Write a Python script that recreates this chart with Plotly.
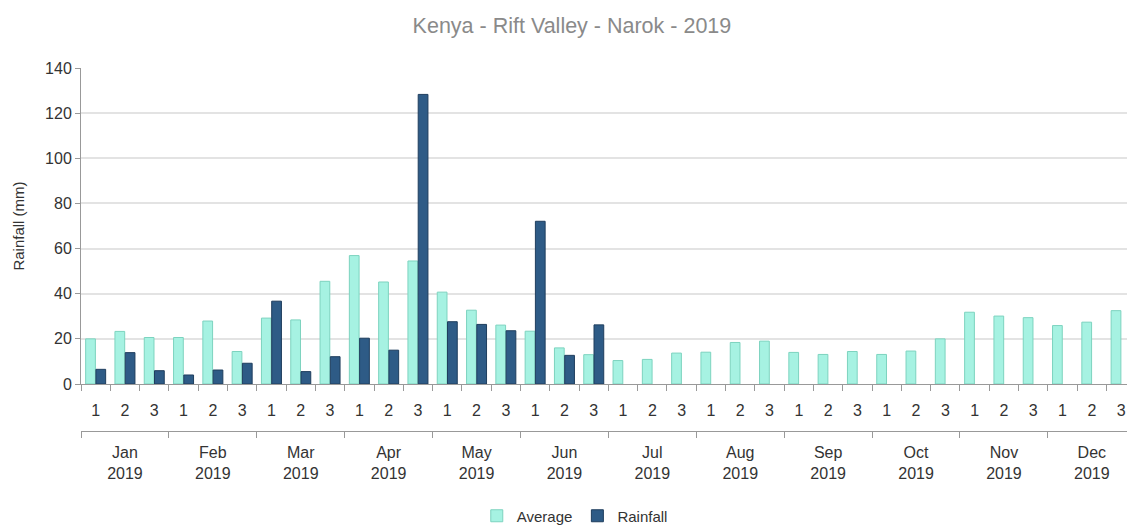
import plotly.graph_objects as go

months = ["Jan", "Feb", "Mar", "Apr", "May", "Jun", "Jul", "Aug", "Sep", "Oct", "Nov", "Dec"]
year = "2019"
dekads = ["1", "2", "3"]

average = [20, 23.3, 20.6, 20.6, 27.9, 14.4, 29.2, 28.4, 45.5, 56.9, 45.2, 54.5,
           40.7, 32.7, 26.1, 23.4, 16.0, 13.0, 10.4, 10.9, 13.7, 14.1, 18.4, 19.0,
           14.0, 13.1, 14.4, 13.1, 14.6, 20.0, 31.8, 30.1, 29.4, 25.9, 27.4, 32.5]
rainfall = [6.5, 13.9, 5.9, 4.0, 6.2, 9.2, 36.7, 5.5, 12.1, 20.3, 15.0, 128.3,
            27.6, 26.4, 23.6, 72.1, 12.7, 26.2, None, None, None, None, None, None,
            None, None, None, None, None, None, None, None, None, None, None, None]

n = len(months) * len(dekads)
idx = list(range(n))
tick_text = [d for m in months for d in dekads]
month_centers = [i * 3 + 1 for i in range(len(months))]
month_text = [f"{m}<br>{year}" for m in months]
x_range = [-0.5, 35.2]

FONT = "Liberation Sans, Arial, sans-serif"

fig = go.Figure()
fig.add_trace(go.Bar(
    x=idx, y=average, name="Average",
    marker=dict(color="#a6f2e2", line=dict(color="#7dd3bf", width=1)),
))
fig.add_trace(go.Bar(
    x=idx, y=rainfall, name="Rainfall",
    marker=dict(color="#2e5b86", line=dict(color="#1f3e5e", width=1)),
))
fig.add_trace(go.Scatter(x=[None], y=[None], xaxis="x2", yaxis="y",
                         showlegend=False, hoverinfo="skip"))

fig.update_layout(
    width=1127, height=526,
    margin=dict(l=81, r=0, t=68, b=86, autoexpand=False),
    paper_bgcolor="white", plot_bgcolor="white",
    font=dict(family=FONT, size=14, color="#333333"),
    title=dict(text="Kenya - Rift Valley - Narok - 2019",
               font=dict(family=FONT, size=21.5, color="#8a8a8a"),
               x=0.5075, xref="container", xanchor="center",
               y=0.9525, yref="container", yanchor="middle"),
    barmode="group", bargap=0.3, bargroupgap=0.05,
    legend=dict(orientation="h", xref="container", yref="container",
                x=0.51, xanchor="center", y=0.019, yanchor="middle",
                font=dict(family=FONT, size=15, color="#333333"),
                tracegroupgap=0),
    xaxis=dict(
        type="linear", range=x_range, domain=[0, 1], automargin=False,
        tickmode="array", tickvals=idx, ticktext=tick_text,
        ticks="", showgrid=False, zeroline=False,
        showline=True, linecolor="#999999", linewidth=1,
        ticklabelstandoff=12, ticklabeloverflow="allow",
        tickfont=dict(family=FONT, size=16, color="#333333"),
        minor=dict(tickmode="array", tickvals=[i - 0.5 for i in idx] + [35.5],
                   ticks="outside", ticklen=6, tickcolor="#999999", showgrid=False),
    ),
    xaxis2=dict(
        type="linear", range=x_range, overlaying="x", anchor="free",
        position=0.0242, side="bottom", automargin=False,
        tickmode="array", tickvals=month_centers, ticktext=month_text,
        ticks="", showgrid=False, zeroline=False,
        showline=True, linecolor="#999999", linewidth=1,
        ticklabelstandoff=7, ticklabeloverflow="allow",
        tickfont=dict(family=FONT, size=16, color="#333333"),
        minor=dict(tickmode="array", tickvals=[c - 1.5 for c in month_centers] + [35.5],
                   ticks="outside", ticklen=6, tickcolor="#999999", showgrid=False),
    ),
    yaxis=dict(
        range=[0, 140], domain=[0.1505, 1], automargin=False,
        tickmode="array", tickvals=[0, 20, 40, 60, 80, 100, 120, 140],
        ticks="outside", ticklen=5, tickcolor="#999999",
        showline=True, linecolor="#999999", linewidth=1,
        showgrid=True, gridcolor="#e3e3e3", gridwidth=1.5, zeroline=False,
        tickfont=dict(family=FONT, size=16, color="#333333"),
        title=dict(text="Rainfall (mm)", font=dict(family=FONT, size=15, color="#333333"),
                   standoff=16),
    ),
)

fig.write_html(
    "out.html",
    config={"displayModeBar": False},
    post_script="document.body.style.margin='0';document.body.style.overflow='hidden';",
)
